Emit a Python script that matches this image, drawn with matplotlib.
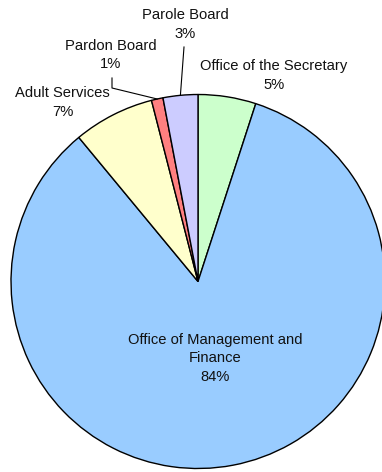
import numpy as np
import matplotlib.pyplot as plt

# Budget share by division, clockwise from 12 o'clock
divisions = ["Office of the Secretary", "Office of Management and\nFinance",
             "Adult Services", "Pardon Board", "Parole Board"]
shares = [5, 84, 7, 1, 3]
colors = ["#CCFFCC", "#99CCFF", "#FFFFCC", "#FF8080", "#CCCCFF"]

W, H = 382, 472
CX, CY, R = 198, 472 - 281.5, 187

fig = plt.figure(figsize=(W / 100, H / 100), dpi=100)
ax = fig.add_axes([0, 0, 1, 1])
wedges, _ = ax.pie(shares, colors=colors, startangle=90, counterclock=False,
                   center=(CX, CY), radius=R,
                   wedgeprops=dict(edgecolor="black", linewidth=1.0))
ax.set_xlim(0, W)
ax.set_ylim(0, H)
ax.set_aspect("equal")
ax.axis("off")

plt.rcParams["font.family"] = ["Liberation Sans", "DejaVu Sans"]
fs = 10.6

def rim_point(w):
    mid = np.deg2rad((w.theta1 + w.theta2) / 2)
    return CX + R * np.cos(mid), CY + R * np.sin(mid)

# label anchors (x, y from top)
label_pos = {
    0: (274, 75.5),
    1: (215, 358.5),
    2: (62.5, 102.5),
    3: (110.5, 55),
    4: (185, 24.5),
}
for i, (name, v) in enumerate(zip(divisions, shares)):
    x, y = label_pos[i]
    ax.text(x, H - y, f"{name}\n{v}%", ha="center", va="center",
            multialignment="center", fontsize=fs, color="#111111",
            linespacing=1.38)

# leader lines for the thin slices
px, py = rim_point(wedges[4])
ax.plot([px, 184], [py, H - 47], color="black", lw=0.8)
px, py = rim_point(wedges[3])
ax.plot([px, 112, 112], [py, H - 88, H - 78], color="black", lw=0.8)

fig.savefig("out.png", dpi=100)
